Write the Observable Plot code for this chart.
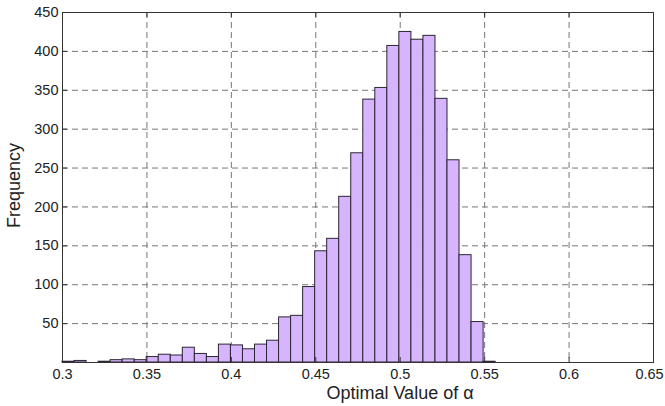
<!DOCTYPE html>
<html>
<head>
<meta charset="utf-8">
<script src="https://cdn.jsdelivr.net/npm/d3@7"></script>
<script src="https://cdn.jsdelivr.net/npm/@observablehq/plot@0.6"></script>
<style>
  body { margin: 0; background: #fff; }
  #chart svg { display: block; }
</style>
</head>
<body>
<div id="chart"></div>
<script>
// Histogram of the optimal alpha values: equal-width bins starting at binStart
const binStart = 0.3;
const binWidth = 0.007125;
const counts = [
  1, 2, 0, 1, 3, 4, 3, 7, 10, 9, 19, 11, 7, 23, 22, 17, 23, 28,
  58, 60, 97, 143, 159, 213, 269, 338, 353, 407, 425, 415, 420, 339,
  260, 138, 52, 1
];
const xTicks = [0.3, 0.35, 0.4, 0.45, 0.5, 0.55, 0.6, 0.65];
const yTicks = [50, 100, 150, 200, 250, 300, 350, 400, 450];
const xLabel = "Optimal Value of α";
const yLabel = "Frequency";

const bins = counts.map((c, i) => ({
  x1: binStart + i * binWidth,
  x2: binStart + (i + 1) * binWidth,
  count: c
}));

const W = 665, H = 406;
const M = {top: 12, right: 12, bottom: 44, left: 62};
const plotW = W - M.left - M.right;
const plotH = H - M.top - M.bottom;
const tickLen = 5;
const font = "'Liberation Sans', Arial, sans-serif";
const ink = "#333";
const gridStyle = {stroke: "#777", strokeOpacity: 1, strokeWidth: 1, strokeDasharray: "6,4"};
const tickText = {tickSize: 0, tickFormat: d => String(d), label: null, fontSize: 14.5, fill: "#222"};

const chart = Plot.plot({
  width: W,
  height: H,
  marginTop: M.top,
  marginRight: M.right,
  marginBottom: M.bottom,
  marginLeft: M.left,
  style: {fontFamily: font, fontSize: "14.5px", color: "#222", background: "#fff"},
  x: {domain: [0.3, 0.65]},
  y: {domain: [0, 450]},
  marks: [
    Plot.gridX(xTicks.slice(1, -1), gridStyle),
    Plot.gridY(yTicks.slice(0, -1), gridStyle),
    Plot.rectY(bins, {
      x1: "x1", x2: "x2", y1: 0, y2: "count",
      fill: "#d7b5fe", stroke: "#2b2433", strokeWidth: 1
    }),
    // inward ticks on all four sides of the box
    Plot.tickX(xTicks, {x: d => d, stroke: ink, insetTop: plotH - tickLen}),
    Plot.tickX(xTicks, {x: d => d, stroke: ink, insetBottom: plotH - tickLen}),
    Plot.tickY(yTicks, {y: d => d, stroke: ink, insetLeft: plotW - tickLen}),
    Plot.tickY(yTicks, {y: d => d, stroke: ink, insetRight: plotW - tickLen}),
    Plot.frame({stroke: ink, strokeWidth: 1}),
    Plot.axisX(xTicks.slice(0, -1), {...tickText, tickPadding: 6}),
    // the last label is nudged inward so it stays inside the figure
    Plot.axisX(xTicks.slice(-1), {...tickText, tickPadding: 6, dx: -4}),
    Plot.axisY(yTicks, {...tickText, tickPadding: 4}),
    Plot.text([xLabel], {
      frameAnchor: "bottom", text: d => d, dx: 42, dy: 36,
      fontSize: 18, fill: "#222", textAnchor: "middle"
    }),
    Plot.text([yLabel], {
      frameAnchor: "left", text: d => d, rotate: -90, dx: -48, dy: -2,
      fontSize: 18, fill: "#222", textAnchor: "middle"
    })
  ]
});

document.getElementById("chart").appendChild(chart);
</script>
</body>
</html>
